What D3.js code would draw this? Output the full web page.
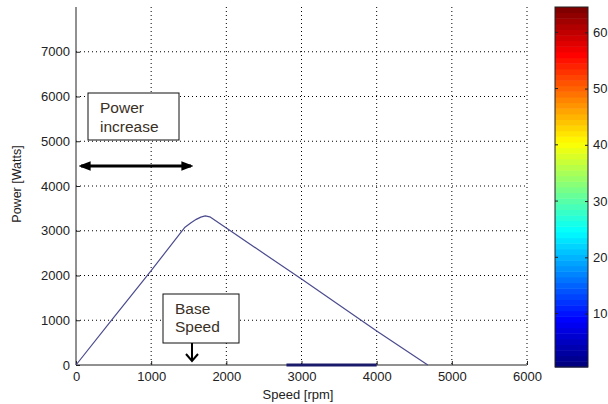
<!DOCTYPE html>
<html>
<head>
<meta charset="utf-8">
<script src="https://cdn.jsdelivr.net/npm/d3@7"></script>
<style>
body { margin: 0; background: #fff; }
text { font-family: "Liberation Sans", Arial, sans-serif; }
</style>
</head>
<body>
<div id="chart"></div>
<script>
// power vs speed curve
var speed = [0, 500, 1000, 1450, 1530, 1600, 1660, 1720, 1780, 2000, 3000, 4000, 4680];
var power = [0, 1060, 2110, 3080, 3180, 3255, 3305, 3332, 3312, 3060, 1920, 760, 0];
// thick segment lying on the axis
var flatSpeed = [2800, 4000];
var flatPower = [0, 0];

var xTicks = [0, 1000, 2000, 3000, 4000, 5000, 6000];
var yTicks = [0, 1000, 2000, 3000, 4000, 5000, 6000, 7000];
var cbTicks = [10, 20, 30, 40, 50, 60];

var width = 608, height = 404;
var plot = { left: 76, right: 527, top: 7, bottom: 365 };

var svg = d3.select('#chart').append('svg')
    .attr('width', width)
    .attr('height', height);

var xScale = d3.scaleLinear().domain([0, 6000]).range([plot.left, plot.right]);
var yScale = d3.scaleLinear().domain([0, 8000]).range([plot.bottom, plot.top]);

// dotted grid
svg.selectAll('.vgrid').data(xTicks.slice(1)).enter().append('line')
    .attr('x1', function(d) { return xScale(d); })
    .attr('x2', function(d) { return xScale(d); })
    .attr('y1', plot.top).attr('y2', plot.bottom)
    .attr('stroke', '#000').attr('stroke-width', 1)
    .attr('stroke-dasharray', '1,3');
svg.selectAll('.hgrid').data(yTicks.slice(1)).enter().append('line')
    .attr('x1', plot.left).attr('x2', plot.right)
    .attr('y1', function(d) { return yScale(d); })
    .attr('y2', function(d) { return yScale(d); })
    .attr('stroke', '#000').attr('stroke-width', 1)
    .attr('stroke-dasharray', '1,3');

// axes
var xAxis = d3.axisBottom(xScale).tickValues(xTicks).tickSize(-4).tickPadding(7).tickFormat(d3.format('d'));
var yAxis = d3.axisLeft(yScale).tickValues(yTicks).tickSize(-4).tickPadding(6).tickFormat(d3.format('d'));

var gx = svg.append('g').attr('transform', 'translate(0,' + plot.bottom + ')').call(xAxis);
var gy = svg.append('g').attr('transform', 'translate(' + plot.left + ',0)').call(yAxis);
[gx, gy].forEach(function(g) {
    g.select('.domain').remove();
    g.selectAll('text').attr('font-size', 13).attr('fill', '#222');
    g.selectAll('line').attr('stroke', '#222');
});
svg.append('line').attr('x1', plot.left).attr('x2', plot.left)
    .attr('y1', plot.top).attr('y2', plot.bottom).attr('stroke', '#222');
svg.append('line').attr('x1', plot.left).attr('x2', plot.right)
    .attr('y1', plot.bottom).attr('y2', plot.bottom).attr('stroke', '#222');

// curve
var pts = speed.map(function(s, i) { return [s, power[i]]; });
var line = d3.line()
    .x(function(d) { return xScale(d[0]); })
    .y(function(d) { return yScale(d[1]); });
svg.append('path').datum(pts)
    .attr('d', line)
    .attr('fill', 'none')
    .attr('stroke', '#4b4b8e')
    .attr('stroke-width', 1.2)
    .attr('stroke-linejoin', 'round');

var flat = flatSpeed.map(function(s, i) { return [s, flatPower[i]]; });
svg.append('path').datum(flat)
    .attr('d', line)
    .attr('fill', 'none')
    .attr('stroke', '#1a1a6a')
    .attr('stroke-width', 3);

// axis labels
svg.append('text')
    .attr('transform', 'translate(21,184) rotate(-90)')
    .attr('text-anchor', 'middle')
    .attr('font-size', 12.5).attr('fill', '#222')
    .text('Power [Watts]');
svg.append('text')
    .attr('x', 298).attr('y', 399)
    .attr('text-anchor', 'middle')
    .attr('font-size', 13).attr('fill', '#222')
    .text('Speed [rpm]');

// colorbar (jet, 64 levels)
function jet(t) {
    var r = Math.max(0, Math.min(1, 1.5 - Math.abs(4 * t - 3)));
    var g = Math.max(0, Math.min(1, 1.5 - Math.abs(4 * t - 2)));
    var b = Math.max(0, Math.min(1, 1.5 - Math.abs(4 * t - 1)));
    return d3.rgb(r * 255, g * 255, b * 255);
}
var cb = { left: 555, right: 588 };
var cScale = d3.scaleLinear().domain([0.5, 64.5]).range([367, 7]);
var levels = d3.range(1, 65);
svg.selectAll('.cb').data(levels).enter().append('rect')
    .attr('x', cb.left)
    .attr('width', cb.right - cb.left)
    .attr('y', function(d) { return cScale(d + 0.5); })
    .attr('height', function(d) { return cScale(d - 0.5) - cScale(d + 0.5) + 0.5; })
    .attr('fill', function(d) { return jet((d - 1) / 63); });
svg.append('rect')
    .attr('x', cb.left).attr('y', 7)
    .attr('width', cb.right - cb.left).attr('height', 360)
    .attr('fill', 'none').attr('stroke', '#222').attr('stroke-width', 1);
var cAxis = d3.axisRight(cScale).tickValues(cbTicks).tickSize(-3).tickPadding(5);
var gc = svg.append('g').attr('transform', 'translate(' + cb.right + ',0)').call(cAxis);
gc.select('.domain').remove();
gc.selectAll('text').attr('font-size', 13).attr('fill', '#222');
gc.selectAll('line').attr('stroke', '#222');
svg.selectAll('.cbl').data(cbTicks).enter().append('line')
    .attr('x1', cb.left).attr('x2', cb.left + 3)
    .attr('y1', function(d) { return cScale(d); })
    .attr('y2', function(d) { return cScale(d); })
    .attr('stroke', '#222');

// annotations
var defs = svg.append('defs');
defs.append('marker').attr('id', 'head').attr('viewBox', '0 0 10 10')
    .attr('refX', 8).attr('refY', 5).attr('markerWidth', 4).attr('markerHeight', 4)
    .attr('orient', 'auto-start-reverse')
    .append('path').attr('d', 'M0,1 L10,5 L0,9 Z').attr('fill', '#000');

var noteFont = 'Open Sans, sans-serif';
svg.append('rect').attr('x', 88).attr('y', 93).attr('width', 91).attr('height', 47)
    .attr('fill', '#fff').attr('stroke', '#111');
svg.append('text').attr('x', 100).attr('y', 113).attr('font-family', noteFont)
    .attr('font-size', 15.5).attr('font-weight', 500).attr('fill', '#3a3026').text('Power');
svg.append('text').attr('x', 100).attr('y', 132).attr('font-family', noteFont)
    .attr('font-size', 15.5).attr('font-weight', 500).attr('fill', '#3a3026').text('increase');
svg.append('line').attr('x1', 81).attr('x2', 191).attr('y1', 166).attr('y2', 166)
    .attr('stroke', '#000').attr('stroke-width', 3)
    .attr('marker-start', 'url(#head)').attr('marker-end', 'url(#head)');

svg.append('rect').attr('x', 163).attr('y', 294).attr('width', 76).attr('height', 49)
    .attr('fill', '#fff').attr('stroke', '#111');
svg.append('text').attr('x', 175).attr('y', 314).attr('font-family', noteFont)
    .attr('font-size', 15.5).attr('font-weight', 500).attr('fill', '#3a3026').text('Base');
svg.append('text').attr('x', 175).attr('y', 332).attr('font-family', noteFont)
    .attr('font-size', 15.5).attr('font-weight', 500).attr('fill', '#3a3026').text('Speed');
svg.append('line').attr('x1', 192).attr('x2', 192).attr('y1', 343).attr('y2', 361)
    .attr('stroke', '#000').attr('stroke-width', 2);
svg.append('path').attr('d', 'M186,354 L192,361 L198,354')
    .attr('fill', 'none').attr('stroke', '#000').attr('stroke-width', 2);
</script>
</body>
</html>
